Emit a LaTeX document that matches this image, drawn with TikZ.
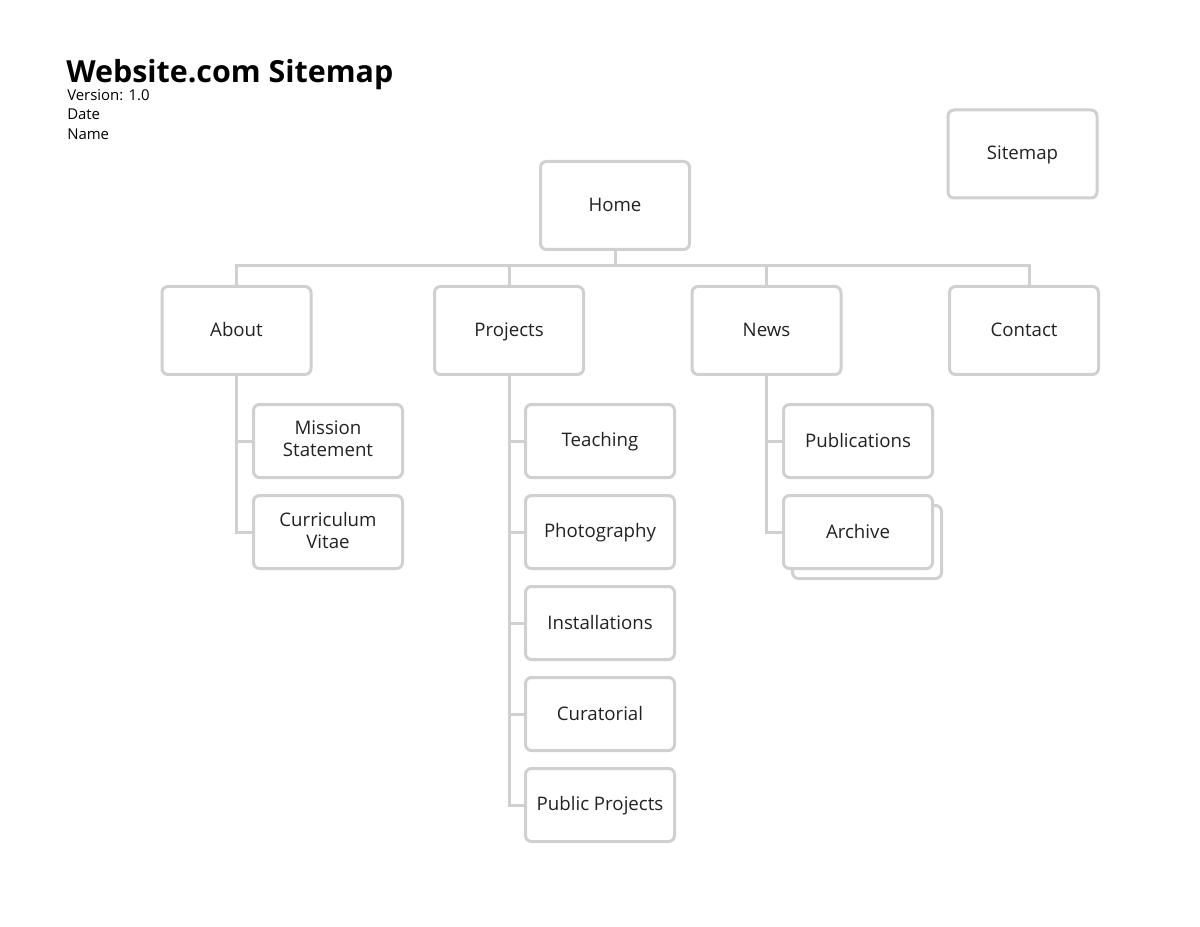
\documentclass[tikz,border=0pt]{standalone}
\usepackage{fontspec}
\setmainfont{Open Sans}
\definecolor{boxgray}{HTML}{D0D0D0}
\definecolor{inkgray}{HTML}{222222}
\newcommand\boxstrut{\rule[-3pt]{0pt}{15pt}}
\begin{document}
\begin{tikzpicture}[x=0.75pt, y=-0.75pt,
    page/.style={draw=boxgray, line width=2.25pt, rounded corners=4.5pt, fill=white,
      text=inkgray, font=\fontsize{14}{16.5}\selectfont, align=center,
      minimum width=111.75pt, inner sep=0pt,
      execute at begin node=\boxstrut, execute at end node=\boxstrut},
    toppage/.style={page, minimum height=66pt},
    subpage/.style={page, minimum height=54.75pt},
    link/.style={draw=boxgray, line width=2.25pt},
    meta/.style={anchor=base west, inner sep=0pt, text=black, font=\fontsize{11.2}{13}\selectfont}]
    \useasboundingbox (0,0) rectangle (1200,927);
    % title block
    \node[anchor=base west, inner sep=0pt, font=\fontsize{22.8}{26}\selectfont\bfseries] (title) at (66,83) {Website.com Sitemap};
    \node[meta] (version) at (67,101) {Version: 1.0};
    \node[meta] (date) at (67,120) {Date};
    \node[meta] (author) at (67,140) {Name};
    % legend
    \node[toppage] (legend) at (1022.5,154) {Sitemap};
    % top level
    \node[toppage] (home) at (615,205.5) {Home};
    \node[toppage] (about) at (236.5,330.5) {About};
    \node[toppage] (projects) at (509,330.5) {Projects};
    \node[toppage] (news) at (766.5,330.5) {News};
    \node[toppage] (contact) at (1024,330.5) {Contact};
    \coordinate (bus) at (615,266);
    \draw[link] (home.south) -- (bus);
    \foreach \s in {about,projects,news}
      \draw[link] (bus) -| (\s.north);
    \draw[link] (bus) -| ([xshift=3.75pt]contact.north);
    % about
    \node[subpage] (mission) at (328,441) {Mission\\Statement};
    \node[subpage] (cv) at (328,532) {Curriculum\\Vitae};
    \foreach \s in {mission,cv}
      \draw[link] (about.south) |- (\s.west);
    % projects
    \foreach \txt [count=\i] in {Teaching,Photography,Installations,Curatorial,Public Projects} {
      \node[subpage] (proj\i) at (600,{350+91*\i}) {\txt};
      \draw[link] (projects.south) |- (proj\i.west);
    }
    % news
    \node[subpage] (pubs) at (858,441) {Publications};
    \node[subpage] (archback) at (867,542) {};
    \node[subpage] (archive) at (858,532) {Archive};
    \foreach \s in {pubs,archive}
      \draw[link] (news.south) |- (\s.west);
  \end{tikzpicture}
\end{document}
